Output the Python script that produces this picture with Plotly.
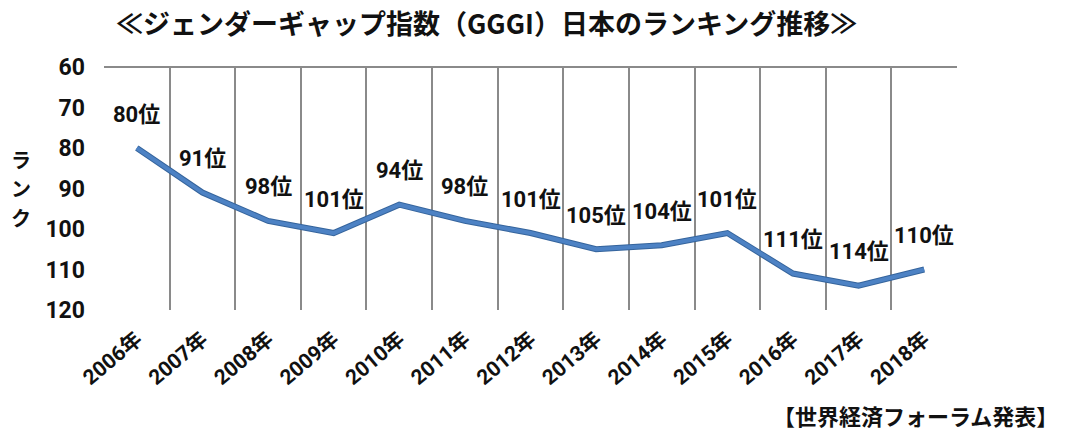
import plotly.graph_objects as go

years = ["2006年", "2007年", "2008年", "2009年", "2010年", "2011年", "2012年",
         "2013年", "2014年", "2015年", "2016年", "2017年", "2018年"]
ranks = [80, 91, 98, 101, 94, 98, 101, 105, 104, 101, 111, 114, 110]
rank_labels = [f"{r}位" for r in ranks]
y_ticks = [60, 70, 80, 90, 100, 110, 120]

title_text = "≪ジェンダーギャップ指数（GGGI）日本のランキング推移≫"
y_title = "ランク"
source_text = "【世界経済フォーラム発表】"

JP = "Noto Sans CJK JP, sans-serif"
NUM = "Roboto, Noto Sans CJK JP, sans-serif"

# plot-area geometry in figure pixels
L, T, R, B = 104, 67, 111, 122
W, H = 1068, 432
PW, PH = W - L - R, H - T - B


def px(xf):
    return (xf - L) / PW


def py(yf):
    return (H - B - yf) / PH


fig = go.Figure()
fig.add_trace(go.Scatter(
    x=years, y=ranks, mode="lines",
    line=dict(color="#35649c", width=6),
    hoverinfo="skip", showlegend=False,
))
fig.add_trace(go.Scatter(
    x=years, y=ranks, mode="lines",
    line=dict(color="#4d82c4", width=4),
    hoverinfo="skip", showlegend=False,
))

for yr, r, lab in zip(years, ranks, rank_labels):
    fig.add_annotation(x=yr, y=r, text=lab, showarrow=False, yshift=34,
                       font=dict(family=NUM, size=22, color="#111", weight="bold"))

fig.add_annotation(xref="paper", yref="paper", x=px(486), y=py(23),
                   xanchor="center", yanchor="middle", text=title_text, showarrow=False,
                   font=dict(family=JP, size=27, color="#111", weight="bold"))

for ch, yc in zip(list(y_title), [159, 188, 217]):
    fig.add_annotation(xref="paper", yref="paper", x=px(21), y=py(yc),
                       xanchor="center", yanchor="middle", text=ch, showarrow=False,
                       font=dict(family=JP, size=20, color="#111", weight="bold"))

fig.add_annotation(xref="paper", yref="paper", x=px(1060), y=py(415),
                   xanchor="right", yanchor="middle", text=source_text, showarrow=False,
                   font=dict(family=JP, size=22, color="#111", weight="bold"))

fig.add_shape(type="line", xref="paper", yref="paper", x0=0, x1=1, y0=1, y1=1,
              line=dict(color="#8a8a8a", width=2))

fig.update_layout(
    width=W, height=H,
    margin=dict(l=L, r=R, t=T, b=B, autoexpand=False),
    paper_bgcolor="white", plot_bgcolor="white",
    xaxis=dict(
        type="category", range=[-0.5, 12.5], tickson="boundaries",
        showgrid=True, gridcolor="#8a8a8a", gridwidth=2,
        showline=False, zeroline=False, ticks="",
        tickangle=-40, ticklabelstandoff=12,
        tickfont=dict(family=NUM, size=21, color="#111", weight="bold"),
    ),
    yaxis=dict(
        range=[120, 60], tickvals=y_ticks, showgrid=False, zeroline=False,
        showline=False, ticks="", ticklabelstandoff=18,
        tickfont=dict(family=NUM, size=23, color="#111", weight="bold"),
    ),
)

fig.write_html(
    "out.html",
    config={"displayModeBar": False},
    post_script="document.body.style.margin='0';document.body.style.overflow='hidden';",
)
